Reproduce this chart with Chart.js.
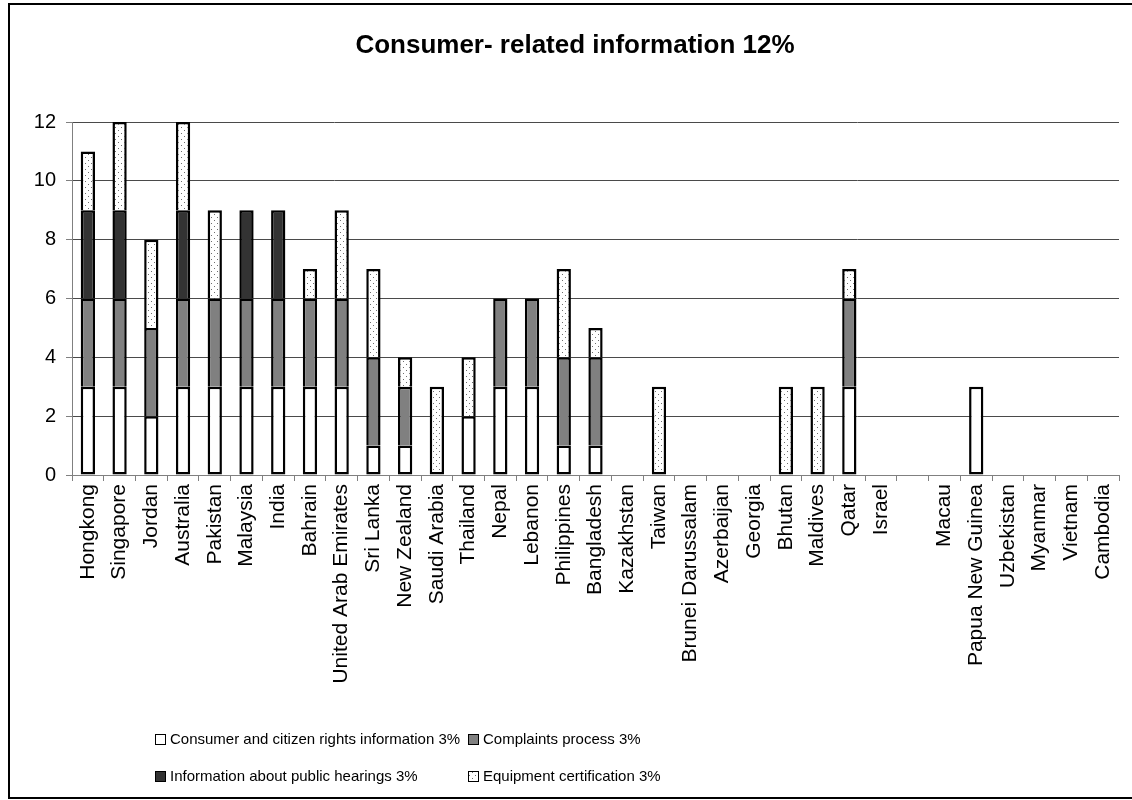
<!DOCTYPE html>
<html lang="en">
<head>
<meta charset="UTF-8">
<title>Consumer- related information 12%</title>
<script src="https://cdn.jsdelivr.net/npm/chart.js@4.4.1/dist/chart.umd.min.js"></script>
<style>
    html, body { margin: 0; padding: 0; background: #fff; overflow: hidden; }
    .chart-box { position: relative; width: 1132px; height: 800px; }
</style>
</head>
<body>
<div class="chart-box"><canvas id="consumerChart"></canvas></div>
<script>
// categories (one empty slot between Israel and Macau, as in the original)
const countries = ['Hongkong', 'Singapore', 'Jordan', 'Australia', 'Pakistan', 'Malaysia', 'India',
    'Bahrain', 'United Arab Emirates', 'Sri Lanka', 'New Zealand', 'Saudi Arabia', 'Thailand', 'Nepal',
    'Lebanon', 'Philippines', 'Bangladesh', 'Kazakhstan', 'Taiwan', 'Brunei Darussalam', 'Azerbaijan',
    'Georgia', 'Bhutan', 'Maldives', 'Qatar', 'Israel', '', 'Macau', 'Papua New Guinea', 'Uzbekistan',
    'Myanmar', 'Vietnam', 'Cambodia'];

const rightsInfo    = [3, 3, 2, 3, 3, 3, 3, 3, 3, 1, 1, 0, 2, 3, 3, 1, 1, 0, 0, 0, 0, 0, 0, 0, 3, 0, 0, 0, 3, 0, 0, 0, 0];
const complaints    = [3, 3, 3, 3, 3, 3, 3, 3, 3, 3, 2, 0, 0, 3, 3, 3, 3, 0, 0, 0, 0, 0, 0, 0, 3, 0, 0, 0, 0, 0, 0, 0, 0];
const hearings      = [3, 3, 0, 3, 0, 3, 3, 0, 0, 0, 0, 0, 0, 0, 0, 0, 0, 0, 0, 0, 0, 0, 0, 0, 0, 0, 0, 0, 0, 0, 0, 0, 0];
const certification = [2, 3, 3, 3, 3, 0, 0, 1, 3, 3, 1, 3, 2, 0, 0, 3, 1, 0, 3, 0, 0, 0, 3, 3, 1, 0, 0, 0, 0, 0, 0, 0, 0];

const seriesNames = ['Consumer and citizen rights information 3%', 'Complaints process 3%',
    'Information about public hearings 3%', 'Equipment certification 3%'];
const chartTitle = 'Consumer- related information 12%';
const yMax = 12;
const yStep = 2;

const FONT = '"Liberation Sans", Arial, sans-serif';

// small dotted fill like the excel pattern
function dotPattern() {
    const c = document.createElement('canvas');
    c.width = 6; c.height = 6;
    const g = c.getContext('2d');
    g.fillStyle = '#fff';
    g.fillRect(0, 0, 6, 6);
    g.fillStyle = '#6e6e6e';
    g.fillRect(1, 1, 1, 1);
    g.fillRect(4, 4, 1, 1);
    return g.createPattern(c, 'repeat');
}

const fills = ['#ffffff', '#808080', '#333333', dotPattern()];
const seriesData = [rightsInfo, complaints, hearings, certification];

// skip the bottom edge unless the segment sits on the axis, so joins stay single lines
function skipEdge(c) {
    for (let k = 0; k < c.datasetIndex; k++) {
        if (seriesData[k][c.dataIndex]) return 'start';
    }
    return false;
}

// white page + outer frame
const framePlugin = {
    id: 'frame',
    beforeDraw(chart) {
        const ctx = chart.ctx;
        ctx.save();
        ctx.fillStyle = '#fff';
        ctx.fillRect(0, 0, chart.width, chart.height);
        ctx.strokeStyle = '#000';
        ctx.lineWidth = 2;
        ctx.strokeRect(9, 4, 1140, 794);
        ctx.restore();
    }
};

// title and 2x2 legend like the original
const textPlugin = {
    id: 'texts',
    afterDraw(chart) {
        const ctx = chart.ctx;
        ctx.save();
        ctx.fillStyle = '#000';
        ctx.font = 'bold 26px ' + FONT;
        ctx.textAlign = 'center';
        ctx.textBaseline = 'middle';
        ctx.fillText(chartTitle, 575, 46);

        const cols = [155, 468];
        const rows = [739, 776];
        ctx.font = '15px ' + FONT;
        ctx.textAlign = 'left';
        chart.data.datasets.forEach((ds, i) => {
            const x = cols[i % 2];
            const y = rows[Math.floor(i / 2)];
            ctx.fillStyle = ds.backgroundColor;
            ctx.fillRect(x, y - 5, 10, 10);
            ctx.strokeStyle = '#000';
            ctx.lineWidth = 1;
            ctx.strokeRect(x + 0.5, y - 4.5, 10, 10);
            ctx.fillStyle = '#000';
            ctx.fillText(ds.label, x + 15, y + 1);
        });
        ctx.restore();
    }
};

const ctx = document.getElementById('consumerChart').getContext('2d');
const chart = new Chart(ctx, {
    type: 'bar',
    data: {
        labels: countries,
        datasets: seriesNames.map((name, i) => ({
            label: name,
            data: seriesData[i].map(v => v || null),
            backgroundColor: fills[i],
            borderColor: '#000',
            borderWidth: 2.5,
            borderSkipped: skipEdge,
            inflateAmount: 0,
            barPercentage: 0.45,
            categoryPercentage: 1
        }))
    },
    options: {
        responsive: true,
        maintainAspectRatio: false,
        animation: false,
        layout: { padding: { left: 0, top: 122, right: 13, bottom: 0 } },
        plugins: {
            legend: { display: false },
            title: { display: false },
            tooltip: { enabled: false }
        },
        scales: {
            x: {
                stacked: true,
                afterFit(scale) { scale.height = 325; },
                grid: {
                    display: true,
                    drawOnChartArea: false,
                    drawTicks: true,
                    tickLength: 6,
                    color: '#808080',
                    offset: true
                },
                border: { color: '#808080', width: 1 },
                ticks: {
                    autoSkip: false,
                    minRotation: 90,
                    maxRotation: 90,
                    padding: 3,
                    color: '#000',
                    font: { family: FONT, size: 21 }
                }
            },
            y: {
                stacked: true,
                min: 0,
                max: yMax,
                afterFit(scale) { scale.width = 72; },
                grid: {
                    color: '#4a4a4a',
                    tickColor: '#808080',
                    tickLength: 6,
                    lineWidth: 1
                },
                border: { color: '#808080', width: 1 },
                ticks: {
                    stepSize: yStep,
                    padding: 10,
                    color: '#000',
                    font: { family: FONT, size: 20 }
                }
            }
        }
    },
    plugins: [framePlugin, textPlugin]
});
</script>
</body>
</html>
